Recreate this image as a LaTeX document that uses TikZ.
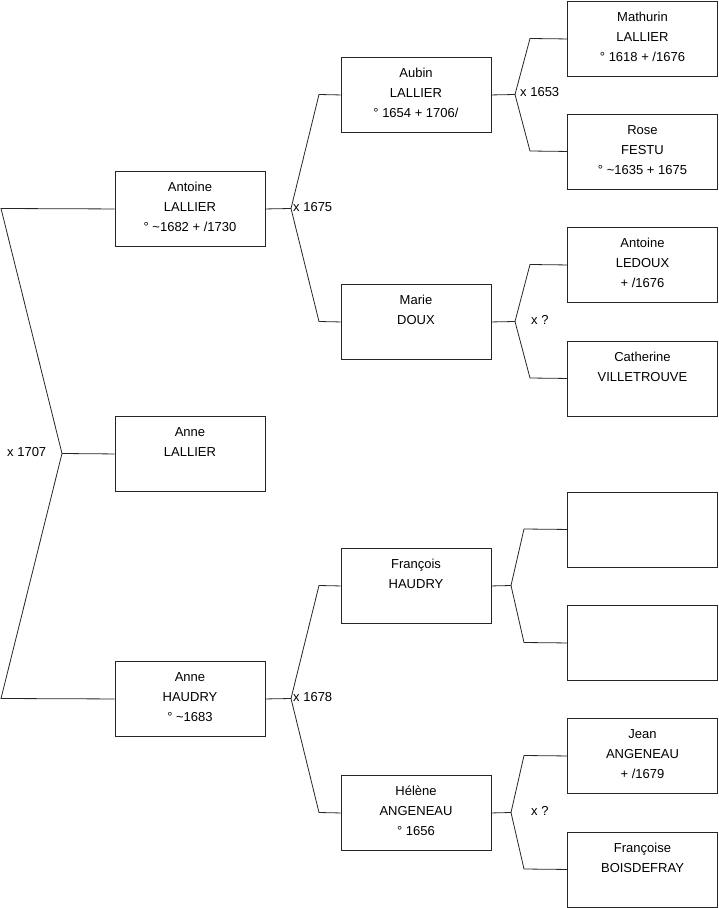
\documentclass[tikz,border=0pt]{standalone}
\usepackage{fontspec}
\setmainfont{Liberation Sans}
\newcommand{\bx}[1]{\parbox[c][75pt][t]{150pt}{\centering\fontsize{13}{20}\selectfont\rule{0pt}{20.5pt}#1\par}}
\tikzset{
  person/.style={draw=black!85, line width=0.9pt, inner sep=0pt, minimum width=150pt, minimum height=75pt, anchor=north, fill=white},
  conn/.style={draw=black!85, line width=0.8pt},
  mlabel/.style={anchor=west, inner sep=0pt, font=\fontsize{13}{15}\selectfont}
}
\begin{document}
\begin{tikzpicture}[x=1pt,y=-1pt]
\useasboundingbox (0,0) rectangle (719,908);
% column 1
\node[person] (antoine) at (190,171) {\bx{Antoine\\LALLIER\\° \textasciitilde1682 + /1730}};
\node[person] (annel) at (190,416) {\bx{Anne\\LALLIER}};
\node[person] (anneh) at (190,661) {\bx{Anne\\HAUDRY\\° \textasciitilde1683}};
% column 2
\node[person] (aubin) at (416,57) {\bx{Aubin\\LALLIER\\° 1654 + 1706/}};
\node[person] (marie) at (416,284) {\bx{Marie\\DOUX}};
\node[person] (francois) at (416,548) {\bx{François\\HAUDRY}};
\node[person] (helene) at (416,775) {\bx{Hélène\\ANGENEAU\\° 1656}};
% column 3
\node[person] (mathurin) at (642.5,1) {\bx{Mathurin\\LALLIER\\° 1618 + /1676}};
\node[person] (rose) at (642.5,113.5) {\bx{Rose\\FESTU\\° \textasciitilde1635 + 1675}};
\node[person] (antoinel) at (642.5,227) {\bx{Antoine\\LEDOUX\\ + /1676}};
\node[person] (catherine) at (642.5,340.5) {\bx{Catherine\\VILLETROUVE}};
\node[person] (blank1) at (642.5,491.5) {\bx{}};
\node[person] (blank2) at (642.5,605) {\bx{}};
\node[person] (jean) at (642.5,718) {\bx{Jean\\ANGENEAU\\ + /1679}};
\node[person] (francoise) at (642.5,831.5) {\bx{Françoise\\BOISDEFRAY}};
% left bracket
\coordinate (a0) at (1,208.5);
\coordinate (b0) at (1,698.5);
\coordinate (m0) at (62,453.5);
\draw[conn] (antoine.west) -- (a0) -- (m0) -- (b0) -- (anneh.west);
\draw[conn] (m0) -- (annel.west);
\node[mlabel] (l0) at (7,452) {x 1707};
% Antoine bracket
\coordinate (m1) at (291,208.5);
\coordinate (t1) at (319,94.5);
\coordinate (u1) at (319,321.5);
\draw[conn] (antoine.east) -- (m1) -- (t1) -- (aubin.west);
\draw[conn] (m1) -- (u1) -- (marie.west);
\node[mlabel] (l1) at (293,207) {x 1675};
% Anne HAUDRY bracket
\coordinate (m2) at (291,698.5);
\coordinate (t2) at (319,585.5);
\coordinate (u2) at (319,812.5);
\draw[conn] (anneh.east) -- (m2) -- (t2) -- (francois.west);
\draw[conn] (m2) -- (u2) -- (helene.west);
\node[mlabel] (l2) at (293,697) {x 1678};
% Aubin bracket
\coordinate (m3) at (515,94.5);
\coordinate (t3) at (530,38.5);
\coordinate (u3) at (530,151);
\draw[conn] (aubin.east) -- (m3) -- (t3) -- (mathurin.west);
\draw[conn] (m3) -- (u3) -- (rose.west);
\node[mlabel] (l3) at (520,92) {x 1653};
% Marie bracket
\coordinate (m4) at (515,321.5);
\coordinate (t4) at (530,264.5);
\coordinate (u4) at (530,378);
\draw[conn] (marie.east) -- (m4) -- (t4) -- (antoinel.west);
\draw[conn] (m4) -- (u4) -- (catherine.west);
\node[mlabel] (l4) at (531,320) {x ?};
% Francois bracket
\coordinate (m5) at (511,585.5);
\coordinate (t5) at (524,529);
\coordinate (u5) at (524,642.5);
\draw[conn] (francois.east) -- (m5) -- (t5) -- (blank1.west);
\draw[conn] (m5) -- (u5) -- (blank2.west);
% Helene bracket
\coordinate (m6) at (511,812.5);
\coordinate (t6) at (524,755.5);
\coordinate (u6) at (524,869);
\draw[conn] (helene.east) -- (m6) -- (t6) -- (jean.west);
\draw[conn] (m6) -- (u6) -- (francoise.west);
\node[mlabel] (l6) at (531,811) {x ?};
\end{tikzpicture}
\end{document}
